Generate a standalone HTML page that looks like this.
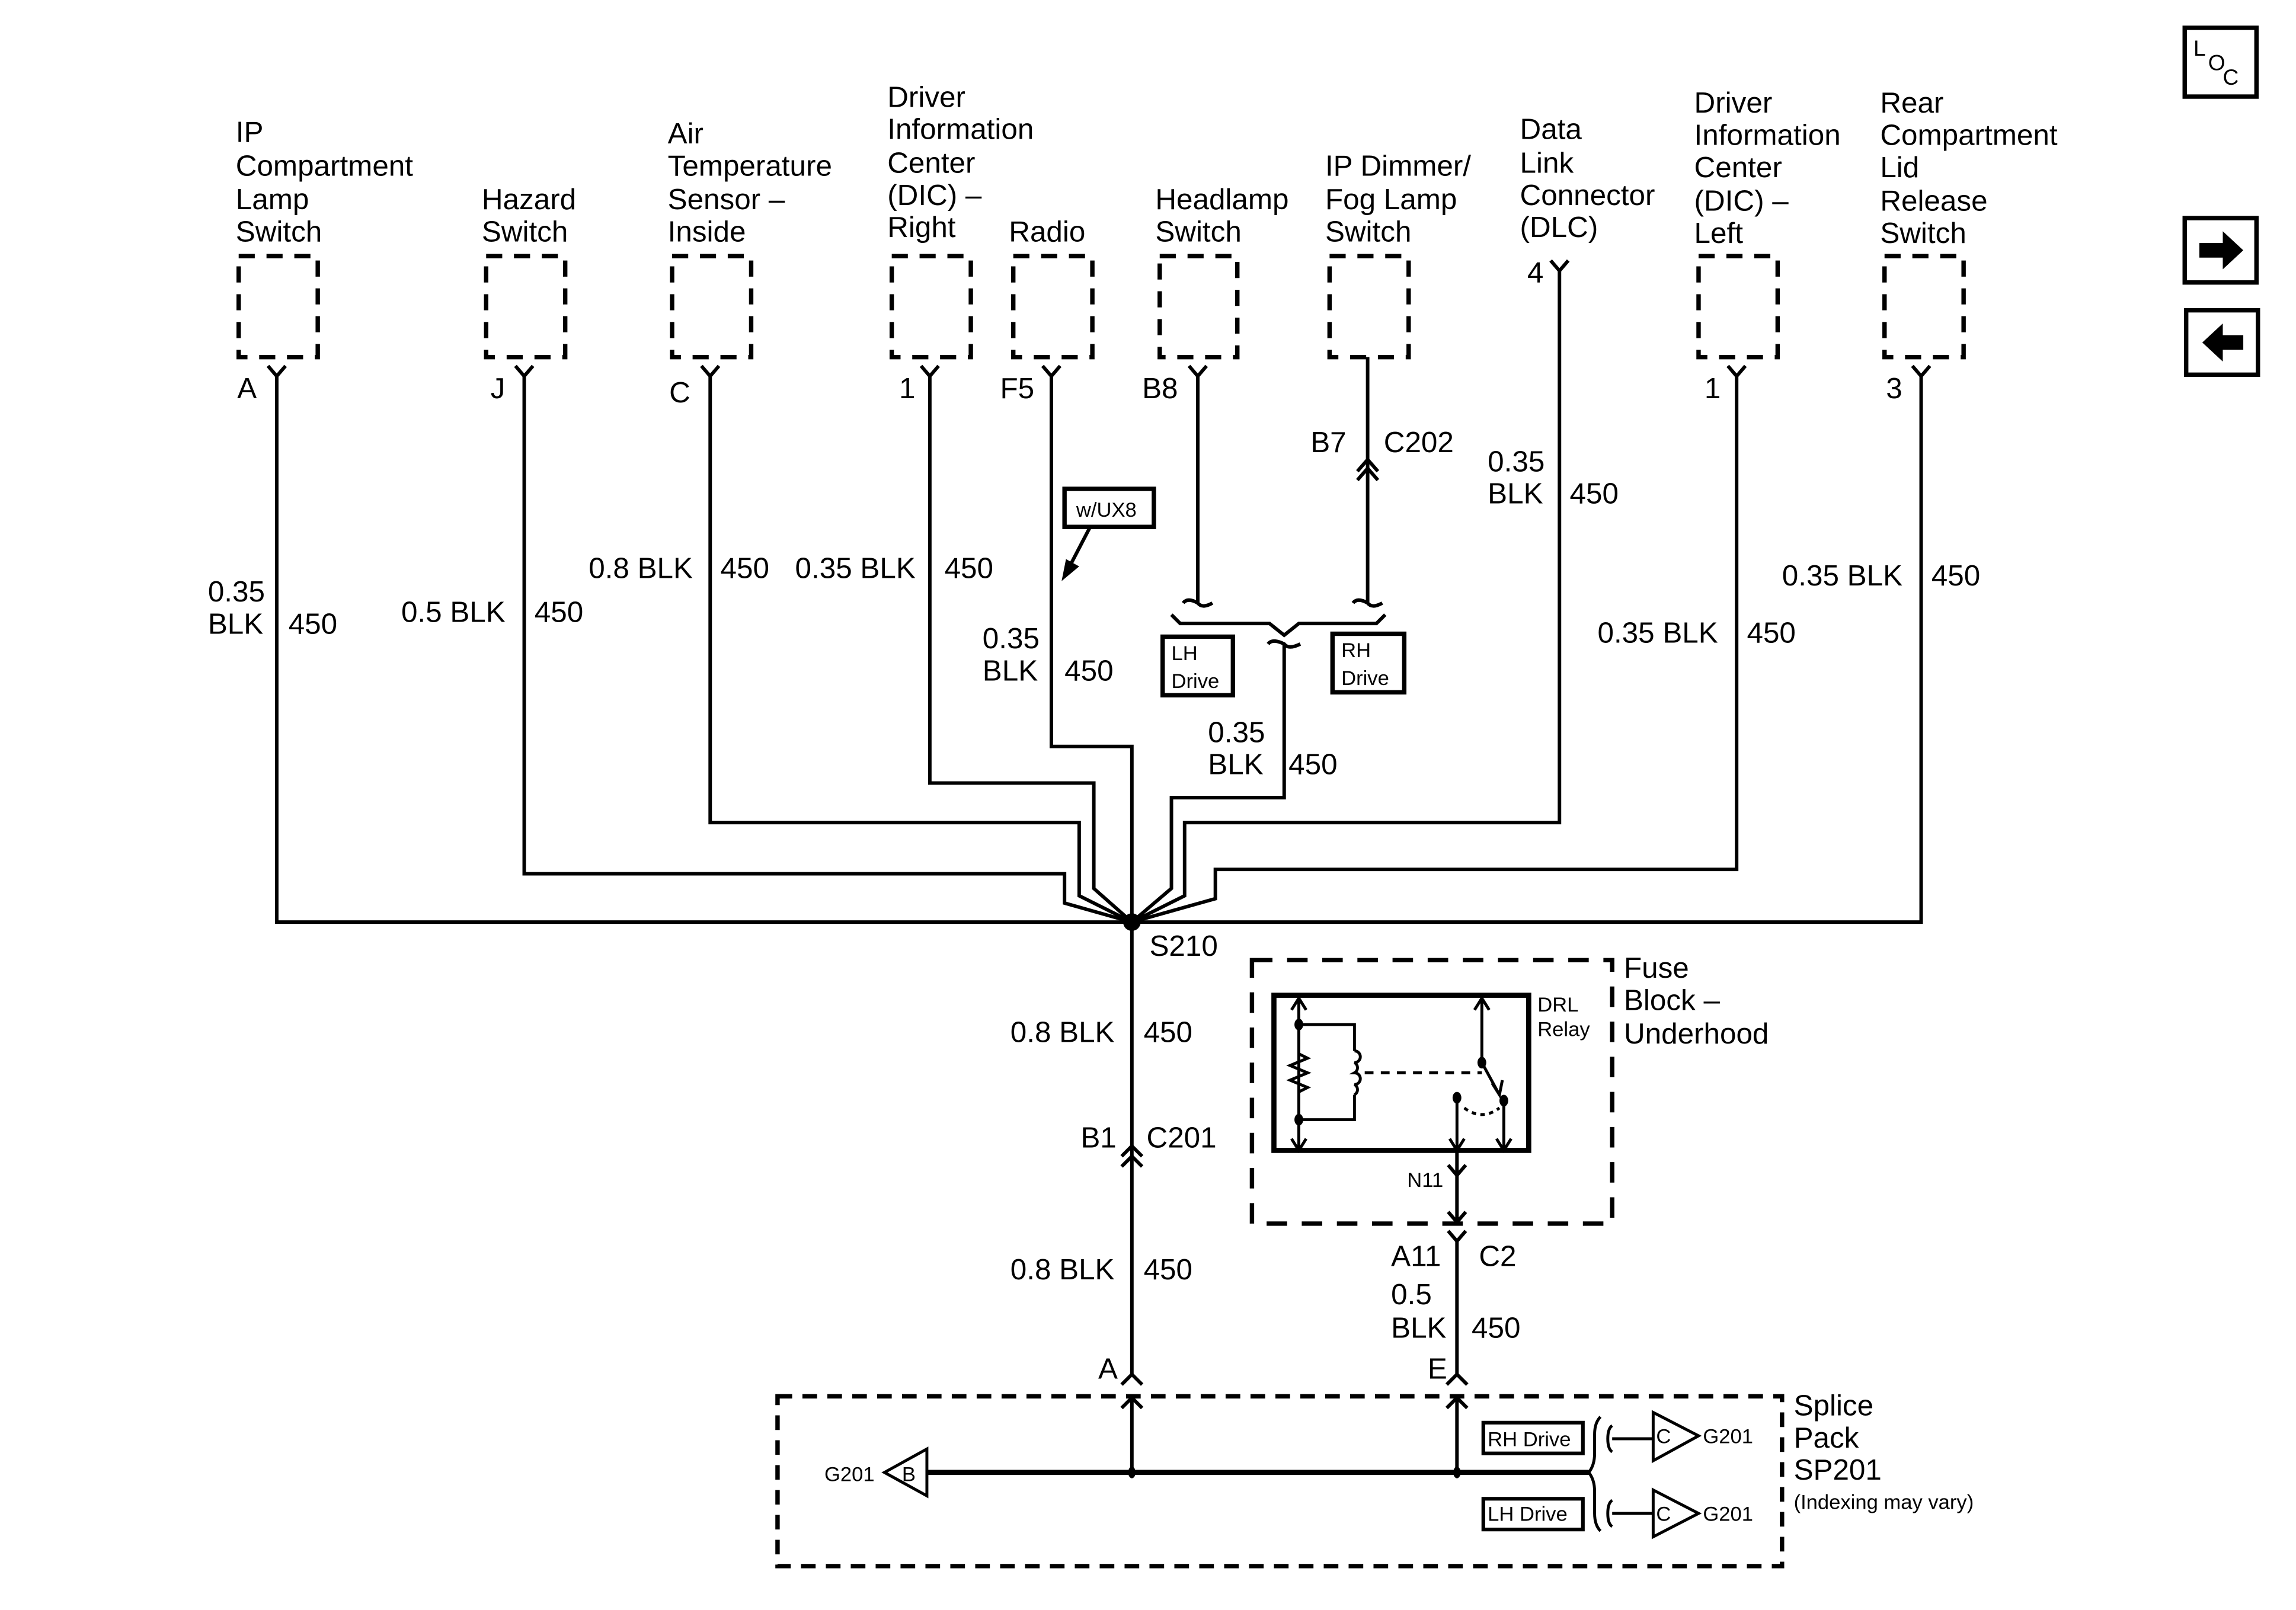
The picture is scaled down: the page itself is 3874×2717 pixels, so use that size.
<!DOCTYPE html>
<html><head><meta charset="utf-8"><style>
html,body{margin:0;padding:0;background:#fff;}
svg{display:block;}
text{font-family:"Liberation Sans",Arial,sans-serif;fill:#000;}
</style></head><body>
<svg width="3874" height="2717" viewBox="0 0 1568 1100" preserveAspectRatio="none" xmlns="http://www.w3.org/2000/svg">
<!-- dashed component boxes -->
<g fill="none" stroke="#000" stroke-width="3" stroke-dasharray="11 8">
<rect x="163" y="175" width="54" height="69"/>
<rect x="332" y="175" width="54" height="69"/>
<rect x="459" y="175" width="54" height="69"/>
<rect x="609" y="175" width="54" height="69"/>
<rect x="692" y="175" width="54" height="69"/>
<rect x="792" y="175" width="53" height="69"/>
<rect x="908" y="175" width="54" height="69"/>
<rect x="1160" y="175" width="54" height="69"/>
<rect x="1287" y="175" width="54" height="69"/>
<rect x="855" y="656" width="246" height="180" stroke-dasharray="14 10"/>
<rect x="531" y="954" width="686" height="116" stroke-dasharray="10 7"/>
</g>
<!-- wires -->
<g fill="none" stroke="#000" stroke-width="2.4">
<path d="M183,250 L189,257 L195,250 M189,257 V630 H1312 V257 M1306,250 L1312,257 L1318,250"/>
<path d="M352,250 L358,257 L364,250 M358,257 V597 H727 V617 L773,630"/>
<path d="M479,250 L485,257 L491,250 M485,257 V562 H737 V612 L773,630"/>
<path d="M629,250 L635,257 L641,250 M635,257 V535 H747 V607 L773,630"/>
<path d="M712,250 L718,257 L724,250 M718,257 V510 H773 V940"/>
<path d="M812,250 L818,257 L824,250 M818,257 V412 M808,412 q3,-4 10,0 q3,4 10,0"/>
<path d="M934,244 V412 M924,412 q3,-4 10,0 q3,4 10,0"/>
<path d="M927,322 L934,314 L941,322 M927,328 L934,320 L941,328"/>
<path d="M800,420 L806,426 H867 L877,434 L887,426 H940 L946,420"/>
<path d="M866,440 q3,-4 11,0 q3,4 11,0 M877,440 V545 H800 V607 L773,630"/>
<path d="M1059,178 L1065,185 L1071,178 M1065,185 V562 H809 V612 L773,630"/>
<path d="M1180,250 L1186,257 L1192,250 M1186,257 V594 H830 V614 L773,630"/>
<path d="M766,790 L773,783 L780,790 M766,797 L773,790 L780,797"/>
<path d="M766,946 L773,939 L780,946 M766,962 L773,955 L780,962 M773,955 V1006"/>
<path d="M988,946 L995,939 L1002,946 M988,962 L995,955 L1002,962 M995,955 V1006 M995,848 V939 M989,841 L995,848 L1001,841"/>
<path d="M995,786 V835 M989,828 L995,835 L1001,828 M989,796 L995,803 L1001,796"/>
<path d="M744,361 L731,386" />
</g>
<path d="M633,1006 H1085" stroke="#000" stroke-width="3.5" fill="none"/>
<circle cx="773" cy="630" r="6"/>
<ellipse cx="773" cy="1006" rx="2.5" ry="4"/><ellipse cx="995" cy="1006" rx="2.5" ry="4"/>
<path d="M725,397 L728,382 L737,387 Z"/>
<!-- boxes -->
<g fill="#fff" stroke="#000" stroke-width="3">
<rect x="727" y="334" width="61" height="26"/>
<rect x="794" y="435" width="48" height="40"/>
<rect x="910" y="433" width="49" height="40"/>
<rect x="1013" y="972" width="68" height="21" stroke-width="2.5"/>
<rect x="1013" y="1024" width="68" height="21" stroke-width="2.5"/>
<rect x="870" y="680" width="174" height="106" stroke-width="3.5"/>
<rect x="1492" y="19" width="49" height="47"/>
<rect x="1492" y="149" width="49" height="44"/>
<rect x="1493" y="212" width="49" height="44"/>
</g>
<!-- ground triangles -->
<g fill="#fff" stroke="#000" stroke-width="2">
<path d="M633,990 L604,1006 L633,1022 Z"/>
<path d="M1129,965 L1160,981 L1129,998 Z"/>
<path d="M1129,1018 L1160,1034 L1129,1050 Z"/>
</g>
<g fill="none" stroke="#000" stroke-width="2">
<path d="M1101,983 H1129 M1101,1034 H1129"/>
<path d="M1093,968 q-4,4 -4,12 v13 q0,8 -4,13 q4,5 4,13 v15 q0,8 4,12"/>
<path d="M1101,974 q-3,2 -3,9 q0,7 3,9 M1101,1025 q-3,2 -3,9 q0,7 3,9"/>
</g>
<!-- relay internals -->
<g fill="none" stroke="#000" stroke-width="2">
<path d="M887,682 V786 M882,690 L887,682 L892,690 M882,778 L887,786 L892,778"/>
<path d="M887,700 H925 V718 M925,748 V765 H887"/>
<path d="M925,718 a4,4 0 0 1 0,8 a4,4 0 0 1 0,7 a4,4 0 0 1 0,8 a4,4 0 0 1 0,7"/>
<path d="M887,720 L893,723 L881,728 L893,733 L881,738 L893,743 L887,746"/>
<path d="M932,733 H1012" stroke-dasharray="6 5"/>
<path d="M1012,682 V726 M1007,690 L1012,682 L1017,690 M1012,726 L1024,748 M1019,740 L1024,748 L1026,738"/>
<path d="M995,750 V786 M1027,752 V786 M990,778 L995,786 L1000,778 M1022,778 L1027,786 L1032,778"/>
<path d="M1000,757 q12,9 24,0" stroke-dasharray="3 3"/>
</g>
<ellipse cx="887" cy="700" rx="3" ry="4"/><ellipse cx="887" cy="765" rx="3" ry="4"/>
<ellipse cx="1012" cy="726" rx="3" ry="4"/><ellipse cx="995" cy="750" rx="3" ry="4"/><ellipse cx="1027" cy="752" rx="3" ry="4"/>
<!-- icons -->
<g font-size="15"><text x="1498" y="38">L</text><text x="1508" y="48">O</text><text x="1518" y="58">C</text></g>
<path d="M1502,166 H1518 V158 L1532,171 L1518,184 V176 H1502 Z"/>
<path d="M1532,229 H1518 V221 L1504,234 L1518,247 V239 H1532 Z"/>
<g font-size="20">
<text x="161" y="97">IP</text><text x="161" y="120">Compartment</text><text x="161" y="143">Lamp</text><text x="161" y="165">Switch</text>
<text x="329" y="143">Hazard</text><text x="329" y="165">Switch</text>
<text x="456" y="98">Air</text><text x="456" y="120">Temperature</text><text x="456" y="143">Sensor –</text><text x="456" y="165">Inside</text>
<text x="606" y="73">Driver</text><text x="606" y="95">Information</text><text x="606" y="118">Center</text><text x="606" y="140">(DIC) –</text><text x="606" y="162">Right</text>
<text x="689" y="165">Radio</text>
<text x="789" y="143">Headlamp</text><text x="789" y="165">Switch</text>
<text x="905" y="120">IP Dimmer/</text><text x="905" y="143">Fog Lamp</text><text x="905" y="165">Switch</text>
<text x="1038" y="95">Data</text><text x="1038" y="118">Link</text><text x="1038" y="140">Connector</text><text x="1038" y="162">(DLC)</text>
<text x="1157" y="77">Driver</text><text x="1157" y="99">Information</text><text x="1157" y="121">Center</text><text x="1157" y="144">(DIC) –</text><text x="1157" y="166">Left</text>
<text x="1284" y="77">Rear</text><text x="1284" y="99">Compartment</text><text x="1284" y="121">Lid</text><text x="1284" y="144">Release</text><text x="1284" y="166">Switch</text>
<text x="162" y="272">A</text><text x="335" y="272">J</text><text x="457" y="275">C</text><text x="614" y="272">1</text>
<text x="683" y="272">F5</text><text x="780" y="272">B8</text><text x="1043" y="193">4</text><text x="1164" y="272">1</text><text x="1288" y="272">3</text>
<text x="895" y="309">B7</text><text x="945" y="309">C202</text>
<text x="142" y="411">0.35</text><text x="142" y="433">BLK</text><text x="197" y="433">450</text>
<text x="274" y="425">0.5 BLK</text><text x="365" y="425">450</text>
<text x="402" y="395">0.8 BLK</text><text x="492" y="395">450</text>
<text x="543" y="395">0.35 BLK</text><text x="645" y="395">450</text>
<text x="671" y="443">0.35</text><text x="671" y="465">BLK</text><text x="727" y="465">450</text>
<text x="825" y="507">0.35</text><text x="825" y="529">BLK</text><text x="880" y="529">450</text>
<text x="1016" y="322">0.35</text><text x="1016" y="344">BLK</text><text x="1072" y="344">450</text>
<text x="1091" y="439">0.35 BLK</text><text x="1193" y="439">450</text>
<text x="1217" y="400">0.35 BLK</text><text x="1319" y="400">450</text>
<text x="785" y="653">S210</text>
<text x="690" y="712">0.8 BLK</text><text x="781" y="712">450</text>
<text x="738" y="784">B1</text><text x="783" y="784">C201</text>
<text x="690" y="874">0.8 BLK</text><text x="781" y="874">450</text>
<text x="750" y="942">A</text><text x="975" y="942">E</text>
<text x="950" y="865">A11</text><text x="1010" y="865">C2</text>
<text x="950" y="891">0.5</text><text x="950" y="914">BLK</text><text x="1005" y="914">450</text>
<text x="1109" y="668">Fuse</text><text x="1109" y="690">Block –</text><text x="1109" y="713">Underhood</text>
<text x="1225" y="967">Splice</text><text x="1225" y="989">Pack</text><text x="1225" y="1011">SP201</text>
</g>
<g font-size="14">
<text x="1050" y="691">DRL</text><text x="1050" y="708">Relay</text>
<text x="961" y="811">N11</text>
<text x="1225" y="1031">(Indexing may vary)</text>
<text x="563" y="1012">G201</text><text x="1163" y="986">G201</text><text x="1163" y="1039">G201</text>
<text x="616" y="1012">B</text><text x="1131" y="986">C</text><text x="1131" y="1039">C</text>
<text x="1016" y="988">RH Drive</text><text x="1016" y="1039">LH Drive</text>
<text x="735" y="353">w/UX8</text>
<text x="800" y="451">LH</text><text x="800" y="470">Drive</text>
<text x="916" y="449">RH</text><text x="916" y="468">Drive</text>
</g>
</svg>
</body></html>
